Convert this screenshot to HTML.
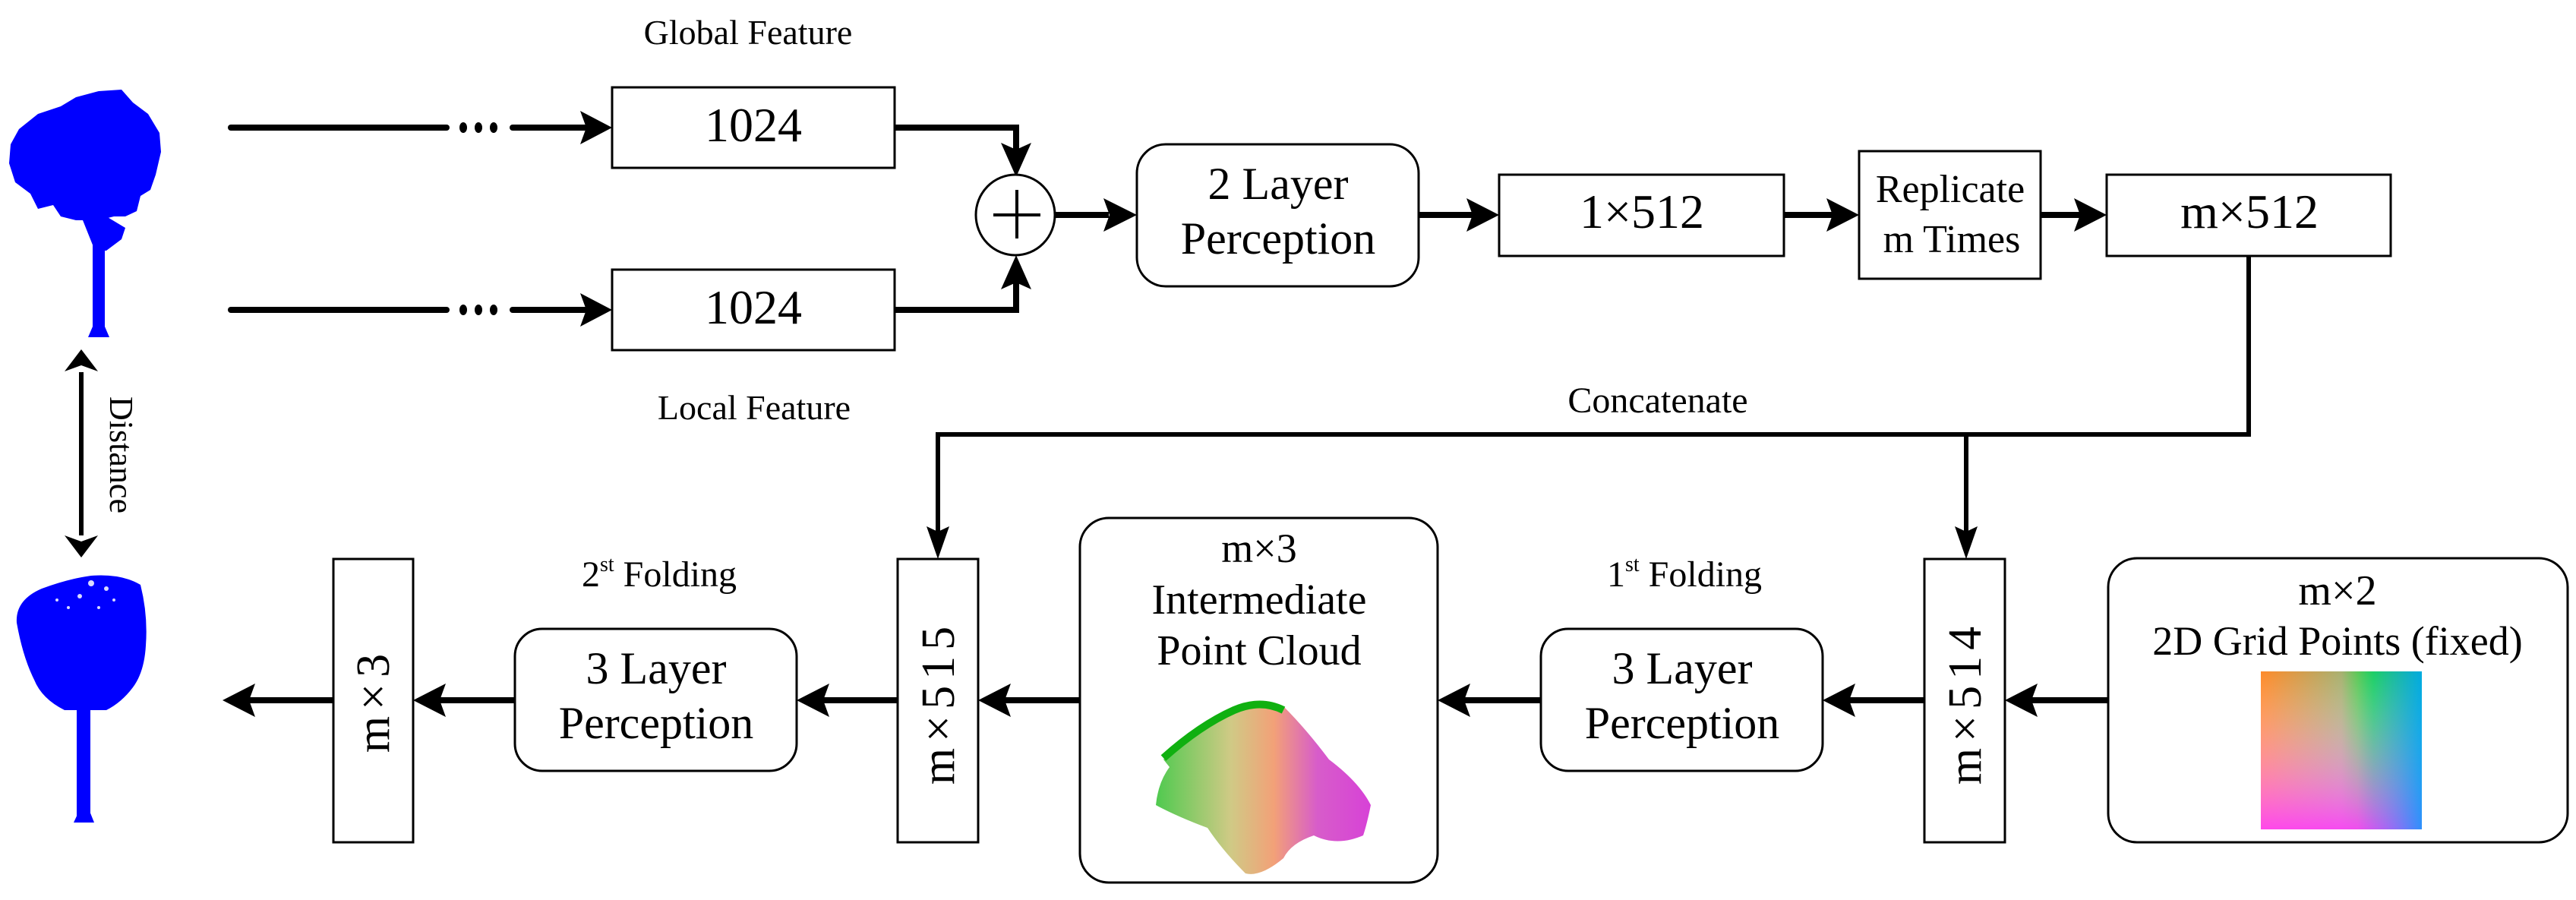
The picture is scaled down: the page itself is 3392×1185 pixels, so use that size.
<!DOCTYPE html>
<html><head><meta charset="utf-8"><style>
html,body{margin:0;padding:0;background:#fff}
svg{display:block}
svg text{font-family:"Liberation Serif","DejaVu Serif",serif !important;fill:#000}
</style></head><body>
<svg width="3392" height="1185" viewBox="0 0 3392 1185" xmlns="http://www.w3.org/2000/svg" font-family="Liberation Serif, serif">
<defs>
<linearGradient id="gh" x1="0" y1="0" x2="1" y2="0">
<stop offset="0" stop-color="#ff8a2a"/><stop offset="0.5" stop-color="#a8b070"/><stop offset="0.7" stop-color="#10e040"/><stop offset="1" stop-color="#00d860"/>
</linearGradient>
<linearGradient id="gv" x1="0" y1="0" x2="0" y2="1">
<stop offset="0" stop-color="#fff" stop-opacity="0"/><stop offset="1" stop-color="#ff40ff" stop-opacity="0.9"/>
</linearGradient>
<linearGradient id="gv2" x1="0" y1="0" x2="1" y2="0">
<stop offset="0" stop-color="#ff50ff" stop-opacity="0"/><stop offset="0.6" stop-color="#6080ff" stop-opacity="0"/><stop offset="1" stop-color="#00a0ff" stop-opacity="0.8"/>
</linearGradient>
<linearGradient id="pc" x1="0" y1="0" x2="1" y2="0">
<stop offset="0" stop-color="#30c030"/><stop offset="0.35" stop-color="#c8c070"/><stop offset="0.55" stop-color="#f09060"/><stop offset="0.75" stop-color="#d040c0"/><stop offset="1" stop-color="#d020d0"/>
</linearGradient>
</defs>

<!-- trees -->
<g fill="#0000ff">
<path d="M50,150 L80,140 L100,128 L130,120 L160,118 L175,135 L195,150 L210,175 L212,200 L205,230 L198,250 L185,258 L180,278 L165,285 L150,285 L130,290 L100,290 L80,285 L70,270 L50,275 L40,255 L20,240 L12,215 L14,190 L25,170 Z"/>
<path d="M105,280 L125,330 L140,330 L160,315 L165,300 L140,285 Z"/>
<rect x="122" y="300" width="16" height="138"/>
<path d="M116,444 L144,444 L138,430 L122,430 Z"/>
<path d="M22,820 Q20,790 55,775 Q90,762 120,758 Q160,755 185,770 Q195,810 192,850 Q190,885 175,905 Q160,925 140,935 L85,935 Q55,920 45,895 Q30,865 22,820 Z"/>
<rect x="101" y="900" width="18" height="175"/>
<path d="M97,1083 L124,1083 L118,1068 L104,1068 Z"/>
</g>
<g fill="#fff" opacity="0.85">
<circle cx="120" cy="768" r="4"/><circle cx="140" cy="775" r="3"/><circle cx="105" cy="785" r="3"/><circle cx="150" cy="790" r="2"/><circle cx="90" cy="800" r="2"/><circle cx="130" cy="800" r="2"/><circle cx="75" cy="790" r="2"/>
</g>

<!-- distance arrow -->
<line x1="107" y1="490" x2="107" y2="705" stroke="#000" stroke-width="6"/>
<path d="M107,460 L129,489 L107,481 L85,489 Z" fill="#000"/>
<path d="M107,734 L129,705 L107,713 L85,705 Z" fill="#000"/>
<text x="0" y="0" font-size="44" transform="translate(145,599) rotate(90)" text-anchor="middle">Distance</text>

<!-- top inputs -->
<text x="985" y="58" font-size="46" text-anchor="middle">Global Feature</text>
<text x="993" y="552" font-size="46" text-anchor="middle">Local Feature</text>
<g stroke="#000" stroke-width="8" stroke-linecap="round" fill="none">
<line x1="304" y1="168" x2="588" y2="168"/><line x1="675" y1="168" x2="770" y2="168"/>
<line x1="304" y1="408" x2="588" y2="408"/><line x1="675" y1="408" x2="770" y2="408"/>
</g>
<g fill="#000">
<ellipse cx="610" cy="168" rx="5" ry="7"/><ellipse cx="630" cy="168" rx="5" ry="7"/><ellipse cx="650" cy="168" rx="5" ry="7"/>
<ellipse cx="610" cy="408" rx="5" ry="7"/><ellipse cx="630" cy="408" rx="5" ry="7"/><ellipse cx="650" cy="408" rx="5" ry="7"/>
<path d="M806,168 L764,146 L772,168 L764,190 Z"/>
<path d="M806,408 L764,386 L772,408 L764,430 Z"/>
</g>
<rect x="806" y="115" width="372" height="106" fill="#fff" stroke="#000" stroke-width="3"/>
<rect x="806" y="355" width="372" height="106" fill="#fff" stroke="#000" stroke-width="3"/>
<text x="992" y="186" font-size="64" text-anchor="middle">1024</text>
<text x="992" y="426" font-size="64" text-anchor="middle">1024</text>

<polyline points="1178,168 1338,168 1338,200" fill="none" stroke="#000" stroke-width="8"/>
<polyline points="1178,408 1338,408 1338,368" fill="none" stroke="#000" stroke-width="8"/>
<path d="M1338,233 L1318,188 L1338,197 L1358,188 Z" fill="#000"/>
<path d="M1338,336 L1318,381 L1338,372 L1358,381 Z" fill="#000"/>
<ellipse cx="1337" cy="283" rx="52" ry="53" fill="#fff" stroke="#000" stroke-width="3"/>
<line x1="1308" y1="283" x2="1370" y2="283" stroke="#000" stroke-width="4"/>
<line x1="1339" y1="250" x2="1339" y2="314" stroke="#000" stroke-width="4"/>

<line x1="1389" y1="283" x2="1460" y2="283" stroke="#000" stroke-width="8"/>
<path d="M1497,283 L1453,261 L1461,283 L1453,305 Z" fill="#000"/>
<rect x="1497" y="190" width="371" height="187" rx="38" fill="#fff" stroke="#000" stroke-width="3"/>
<text x="1683" y="262" font-size="60" text-anchor="middle">2 Layer</text>
<text x="1683" y="334" font-size="60" text-anchor="middle">Perception</text>

<line x1="1868" y1="283" x2="1940" y2="283" stroke="#000" stroke-width="8"/>
<path d="M1974,283 L1931,261 L1939,283 L1931,305 Z" fill="#000"/>
<rect x="1974" y="230" width="375" height="107" fill="#fff" stroke="#000" stroke-width="3"/>
<text x="2162" y="300" font-size="64" text-anchor="middle">1×512</text>

<line x1="2349" y1="283" x2="2415" y2="283" stroke="#000" stroke-width="8"/>
<path d="M2448,283 L2405,261 L2413,283 L2405,305 Z" fill="#000"/>
<rect x="2448" y="199" width="239" height="168" fill="#fff" stroke="#000" stroke-width="3"/>
<text x="2568" y="266" font-size="52" text-anchor="middle">Replicate</text>
<text x="2570" y="332" font-size="52" text-anchor="middle">m Times</text>

<line x1="2687" y1="283" x2="2740" y2="283" stroke="#000" stroke-width="8"/>
<path d="M2774,283 L2731,261 L2739,283 L2731,305 Z" fill="#000"/>
<rect x="2774" y="230" width="374" height="107" fill="#fff" stroke="#000" stroke-width="3"/>
<text x="2962" y="300" font-size="64" text-anchor="middle">m×512</text>

<!-- concatenate -->
<polyline points="2961,337 2961,572 1235,572 1235,700" fill="none" stroke="#000" stroke-width="6"/>
<line x1="2589" y1="572" x2="2589" y2="700" stroke="#000" stroke-width="6"/>
<path d="M1235,736 L1220,693 L1235,700 L1250,693 Z" fill="#000"/>
<path d="M2589,736 L2574,693 L2589,700 L2604,693 Z" fill="#000"/>
<text x="2183" y="543" font-size="48" text-anchor="middle">Concatenate</text>

<!-- bottom row -->
<rect x="439" y="736" width="105" height="373" fill="#fff" stroke="#000" stroke-width="3"/>
<text font-size="62" letter-spacing="8" text-anchor="middle" transform="translate(512,922) rotate(-90)">m×3</text>
<rect x="1182" y="736" width="106" height="373" fill="#fff" stroke="#000" stroke-width="3"/>
<text font-size="62" letter-spacing="8" text-anchor="middle" transform="translate(1256,925) rotate(-90)">m×515</text>
<rect x="2534" y="736" width="106" height="373" fill="#fff" stroke="#000" stroke-width="3"/>
<text font-size="62" letter-spacing="8" text-anchor="middle" transform="translate(2608,925) rotate(-90)">m×514</text>

<rect x="678" y="828" width="371" height="187" rx="36" fill="#fff" stroke="#000" stroke-width="3"/>
<text x="864" y="900" font-size="60" text-anchor="middle">3 Layer</text>
<text x="864" y="972" font-size="60" text-anchor="middle">Perception</text>
<text x="868" y="772" font-size="48" text-anchor="middle">2<tspan font-size="28" dy="-20">st</tspan><tspan dy="20"> Folding</tspan></text>

<rect x="2029" y="828" width="371" height="187" rx="36" fill="#fff" stroke="#000" stroke-width="3"/>
<text x="2215" y="900" font-size="60" text-anchor="middle">3 Layer</text>
<text x="2215" y="972" font-size="60" text-anchor="middle">Perception</text>
<text x="2218" y="772" font-size="48" text-anchor="middle">1<tspan font-size="28" dy="-20">st</tspan><tspan dy="20"> Folding</tspan></text>

<rect x="1422" y="682" width="471" height="480" rx="38" fill="#fff" stroke="#000" stroke-width="3"/>
<text x="1658" y="740" font-size="54" text-anchor="middle">m×3</text>
<text x="1658" y="808" font-size="56" text-anchor="middle">Intermediate</text>
<text x="1658" y="875" font-size="56" text-anchor="middle">Point Cloud</text>
<path d="M1532,1000 Q1570,960 1620,935 Q1660,915 1690,930 Q1720,960 1750,1000 Q1790,1030 1805,1060 Q1800,1085 1795,1100 Q1760,1115 1730,1100 Q1700,1110 1690,1130 Q1660,1155 1640,1150 Q1610,1120 1590,1090 Q1550,1075 1522,1060 Q1525,1030 1540,1010 Z" fill="url(#pc)" opacity="0.85"/>
<path d="M1532,998 Q1580,955 1625,935 Q1660,920 1690,935" fill="none" stroke="#10b010" stroke-width="10"/>

<rect x="2776" y="735" width="605" height="374" rx="38" fill="#fff" stroke="#000" stroke-width="3"/>
<text x="3078" y="796" font-size="56" text-anchor="middle">m×2</text>
<text x="3078" y="862" font-size="54" text-anchor="middle">2D Grid Points (fixed)</text>
<rect x="2977" y="884" width="212" height="208" fill="url(#gh)"/>
<rect x="2977" y="884" width="212" height="208" fill="url(#gv)"/>
<rect x="2977" y="884" width="212" height="208" fill="url(#gv2)"/>

<g stroke="#000" stroke-width="8">
<line x1="2776" y1="922" x2="2670" y2="922"/>
<line x1="2534" y1="922" x2="2430" y2="922"/>
<line x1="2029" y1="922" x2="1925" y2="922"/>
<line x1="1422" y1="922" x2="1318" y2="922"/>
<line x1="1182" y1="922" x2="1080" y2="922"/>
<line x1="678" y1="922" x2="575" y2="922"/>
<line x1="439" y1="922" x2="325" y2="922"/>
</g>
<g fill="#000">
<path d="M2640,922 L2683,900 L2675,922 L2683,944 Z"/>
<path d="M2400,922 L2443,900 L2435,922 L2443,944 Z"/>
<path d="M1893,922 L1936,900 L1928,922 L1936,944 Z"/>
<path d="M1288,922 L1331,900 L1323,922 L1331,944 Z"/>
<path d="M1049,922 L1092,900 L1084,922 L1092,944 Z"/>
<path d="M544,922 L587,900 L579,922 L587,944 Z"/>
<path d="M293,922 L336,900 L328,922 L336,944 Z"/>
</g>
</svg>
</body></html>
